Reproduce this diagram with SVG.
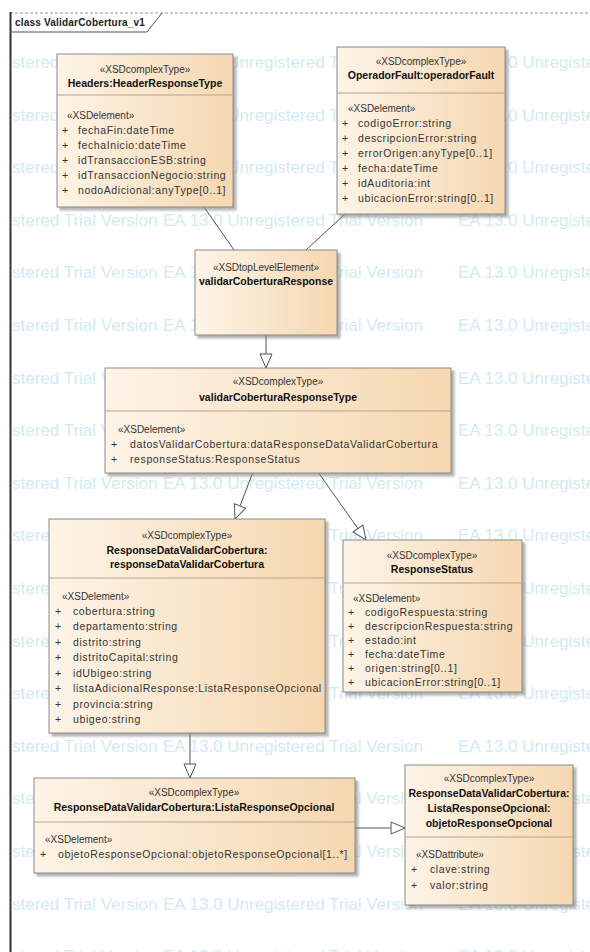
<svg xmlns="http://www.w3.org/2000/svg" width="590" height="952" viewBox="0 0 590 952">
<style>
.wm{font-family:"Liberation Sans",Arial,sans-serif;font-size:17px;fill:#d2ebf2}
.box{fill:url(#g);stroke:#8a8a8a;stroke-width:1;filter:url(#sh)}
.div{stroke:#b9a58e;stroke-width:1}
.st{font-family:"Liberation Sans",Arial,sans-serif;font-size:10px;fill:#333;text-anchor:middle}
.nm{font-family:"Liberation Sans",Arial,sans-serif;font-size:10.5px;font-weight:bold;fill:#111;text-anchor:middle}
.lb{font-family:"Liberation Sans",Arial,sans-serif;font-size:10px;fill:#333}
.at{font-family:"Liberation Sans",Arial,sans-serif;font-size:10.5px;letter-spacing:0.6px;fill:#333}
.cn{stroke:#555;stroke-width:1;fill:none}
.gen{marker-end:url(#tri)}
</style>
<defs>
<linearGradient id="g" x1="0" y1="0" x2="1" y2="0">
<stop offset="0" stop-color="#fdf4e7"/>
<stop offset="1" stop-color="#f6d7b0"/>
</linearGradient>
<filter id="sh" x="-5%" y="-5%" width="115%" height="115%">
<feDropShadow dx="3" dy="3" stdDeviation="1.2" flood-color="#808080" flood-opacity="0.6"/>
</filter>
<marker id="tri" markerWidth="16" markerHeight="14" refX="15" refY="7" orient="auto" markerUnits="userSpaceOnUse">
<path d="M1,1 L15,7 L1,13 Z" fill="#fff" stroke="#555" stroke-width="1"/>
</marker>
<clipPath id="fr"><rect x="11" y="14" width="579" height="938"/></clipPath>
<g id="wmrow">
<text class="wm" x="12">stered Trial Version</text>
<text class="wm" x="163">EA 13.0 Unregistered Trial Version</text>
<text class="wm" x="458">EA 13.0 Unregistered Trial Version</text>
</g>
</defs>
<rect width="590" height="952" fill="#fff"/>
<g id="watermark" clip-path="url(#fr)">
<use href="#wmrow" y="68"/>
<use href="#wmrow" y="121"/>
<use href="#wmrow" y="173"/>
<use href="#wmrow" y="226"/>
<use href="#wmrow" y="278"/>
<use href="#wmrow" y="331"/>
<use href="#wmrow" y="384"/>
<use href="#wmrow" y="436"/>
<use href="#wmrow" y="489"/>
<use href="#wmrow" y="541"/>
<use href="#wmrow" y="594"/>
<use href="#wmrow" y="647"/>
<use href="#wmrow" y="699"/>
<use href="#wmrow" y="752"/>
<use href="#wmrow" y="804"/>
<use href="#wmrow" y="857"/>
<use href="#wmrow" y="910"/>
<use href="#wmrow" y="962"/>
</g>
<g id="frame">
<line x1="10" y1="13" x2="590" y2="13" stroke="#9a9a9a" stroke-width="1" stroke-dasharray="3,2"/>
<line x1="10.5" y1="12" x2="10.5" y2="952" stroke="#333" stroke-width="2"/>
<path d="M10,32 L147,32 L162,13" fill="none" stroke="#555" stroke-width="1"/>
<text x="15" y="26" font-family="Liberation Sans,Arial,sans-serif" font-size="10px" font-weight="bold" fill="#222" letter-spacing="0.2">class ValidarCobertura_v1</text>
</g>
<g id="connectors">
<line class="cn" x1="204" y1="207" x2="234" y2="250"/>
<line class="cn" x1="345" y1="214" x2="306" y2="250"/>
<line class="cn gen" x1="266" y1="335" x2="266" y2="368"/>
<line class="cn gen" x1="253" y1="472" x2="235" y2="519"/>
<line class="cn gen" x1="318" y1="472" x2="366" y2="540"/>
<line class="cn gen" x1="190" y1="733" x2="190" y2="778"/>
<line class="cn gen" x1="355" y1="828" x2="405" y2="828"/>
</g>
<g id="headers">
<rect class="box" x="57" y="54" width="176" height="153"/>
<line class="div" x1="57" y1="95" x2="233" y2="95"/>
<text class="st" x="145" y="73">«XSDcomplexType»</text>
<text class="nm" x="145" y="87">Headers:HeaderResponseType</text>
<text class="lb" x="67" y="119">«XSDelement»</text>
<text class="at" x="62" y="134">+</text><text class="at" x="78" y="134">fechaFin:dateTime</text>
<text class="at" x="62" y="149">+</text><text class="at" x="78" y="149">fechaInicio:dateTime</text>
<text class="at" x="62" y="164">+</text><text class="at" x="78" y="164">idTransaccionESB:string</text>
<text class="at" x="62" y="179">+</text><text class="at" x="78" y="179">idTransaccionNegocio:string</text>
<text class="at" x="62" y="194">+</text><text class="at" x="78" y="194">nodoAdicional:anyType[0..1]</text>
</g>
<g id="operadorFault">
<rect class="box" x="337" y="47" width="168" height="167"/>
<line class="div" x1="337" y1="93" x2="505" y2="93"/>
<text class="st" x="421" y="65">«XSDcomplexType»</text>
<text class="nm" x="421" y="79">OperadorFault:operadorFault</text>
<text class="lb" x="348" y="112">«XSDelement»</text>
<text class="at" x="342" y="127">+</text><text class="at" x="358" y="127">codigoError:string</text>
<text class="at" x="342" y="142">+</text><text class="at" x="358" y="142">descripcionError:string</text>
<text class="at" x="342" y="157">+</text><text class="at" x="358" y="157">errorOrigen:anyType[0..1]</text>
<text class="at" x="342" y="172">+</text><text class="at" x="358" y="172">fecha:dateTime</text>
<text class="at" x="342" y="187">+</text><text class="at" x="358" y="187">idAuditoria:int</text>
<text class="at" x="342" y="202">+</text><text class="at" x="358" y="202">ubicacionError:string[0..1]</text>
</g>
<g id="validarCoberturaResponse">
<rect class="box" x="195" y="250" width="142" height="85"/>
<text class="st" x="266" y="271">«XSDtopLevelElement»</text>
<text class="nm" x="266" y="285">validarCoberturaResponse</text>
</g>
<g id="validarCoberturaResponseType">
<rect class="box" x="105" y="368" width="346" height="105"/>
<line class="div" x1="105" y1="411" x2="451" y2="411"/>
<text class="st" x="278" y="385">«XSDcomplexType»</text>
<text class="nm" x="278" y="401">validarCoberturaResponseType</text>
<text class="lb" x="118" y="433">«XSDelement»</text>
<text class="at" x="111" y="448">+</text><text class="at" x="130" y="448">datosValidarCobertura:dataResponseDataValidarCobertura</text>
<text class="at" x="111" y="463">+</text><text class="at" x="130" y="463">responseStatus:ResponseStatus</text>
</g>
<g id="responseDataValidarCobertura">
<rect class="box" x="49" y="519" width="276" height="214"/>
<line class="div" x1="49" y1="578" x2="325" y2="578"/>
<text class="st" x="187" y="539">«XSDcomplexType»</text>
<text class="nm" x="187" y="554">ResponseDataValidarCobertura:</text>
<text class="nm" x="187" y="568">responseDataValidarCobertura</text>
<text class="lb" x="62" y="600">«XSDelement»</text>
<text class="at" x="55" y="615">+</text><text class="at" x="73" y="615">cobertura:string</text>
<text class="at" x="55" y="630">+</text><text class="at" x="73" y="630">departamento:string</text>
<text class="at" x="55" y="646">+</text><text class="at" x="73" y="646">distrito:string</text>
<text class="at" x="55" y="661">+</text><text class="at" x="73" y="661">distritoCapital:string</text>
<text class="at" x="55" y="677">+</text><text class="at" x="73" y="677">idUbigeo:string</text>
<text class="at" x="55" y="692">+</text><text class="at" x="73" y="692">listaAdicionalResponse:ListaResponseOpcional</text>
<text class="at" x="55" y="708">+</text><text class="at" x="73" y="708">provincia:string</text>
<text class="at" x="55" y="723">+</text><text class="at" x="73" y="723">ubigeo:string</text>
</g>
<g id="responseStatus">
<rect class="box" x="343" y="540" width="179" height="152"/>
<line class="div" x1="343" y1="583" x2="522" y2="583"/>
<text class="st" x="432" y="559">«XSDcomplexType»</text>
<text class="nm" x="432" y="573">ResponseStatus</text>
<text class="lb" x="353" y="602">«XSDelement»</text>
<text class="at" x="348" y="616">+</text><text class="at" x="365" y="616">codigoRespuesta:string</text>
<text class="at" x="348" y="630">+</text><text class="at" x="365" y="630">descripcionRespuesta:string</text>
<text class="at" x="348" y="644">+</text><text class="at" x="365" y="644">estado:int</text>
<text class="at" x="348" y="658">+</text><text class="at" x="365" y="658">fecha:dateTime</text>
<text class="at" x="348" y="672">+</text><text class="at" x="365" y="672">origen:string[0..1]</text>
<text class="at" x="348" y="686">+</text><text class="at" x="365" y="686">ubicacionError:string[0..1]</text>
</g>
<g id="listaResponseOpcional">
<rect class="box" x="34" y="778" width="321" height="95"/>
<line class="div" x1="34" y1="822" x2="355" y2="822"/>
<text class="st" x="194" y="796">«XSDcomplexType»</text>
<text class="nm" x="194" y="811">ResponseDataValidarCobertura:ListaResponseOpcional</text>
<text class="lb" x="45" y="843">«XSDelement»</text>
<text class="at" x="40" y="858">+</text><text class="at" x="58" y="858">objetoResponseOpcional:objetoResponseOpcional[1..*]</text>
</g>
<g id="objetoResponseOpcional">
<rect class="box" x="405" y="765" width="168" height="140"/>
<line class="div" x1="405" y1="837" x2="573" y2="837"/>
<text class="st" x="489" y="782">«XSDcomplexType»</text>
<text class="nm" x="489" y="797">ResponseDataValidarCobertura:</text>
<text class="nm" x="489" y="812">ListaResponseOpcional:</text>
<text class="nm" x="489" y="827">objetoResponseOpcional</text>
<text class="lb" x="416" y="858">«XSDattribute»</text>
<text class="at" x="411" y="873">+</text><text class="at" x="430" y="873">clave:string</text>
<text class="at" x="411" y="889">+</text><text class="at" x="430" y="889">valor:string</text>
</g>
</svg>
